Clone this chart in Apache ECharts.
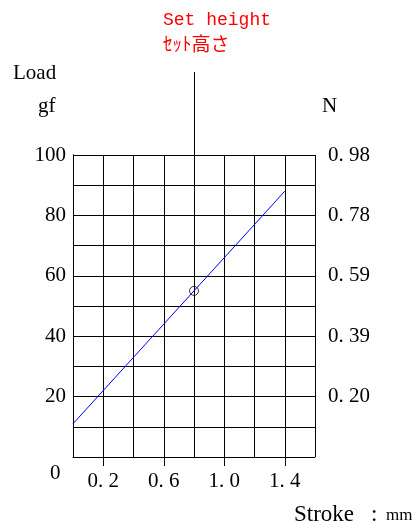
<!DOCTYPE html>
<html><head><meta charset="utf-8">
<script src="https://cdn.jsdelivr.net/npm/echarts@6/dist/echarts.min.js"></script>
<style>html,body{margin:0;padding:0;background:#fff}#c{width:416px;height:525px}</style>
</head><body><div id="c"></div>
<script>
var strokeValues = [0, 1.4];
var loadValues = [11, 88];
var setPoint = [0.8, 55];
var xTickValues = [0.2, 0.6, 1.0, 1.4];
var xTickLabels = ['0. 2', '0. 6', '1. 0', '1. 4'];
var yTickValues = [20, 40, 60, 80, 100];
var yLeftLabels = ['20', '40', '60', '80', '100'];
var yRightLabels = ['0. 20', '0. 39', '0. 59', '0. 78', '0. 98'];

var FONT = '"Liberation Serif", serif';
var chart = echarts.init(document.getElementById('c'), null, {renderer: 'canvas'});
function lab(arr, vals) { return function (v) { for (var i = 0; i < vals.length; i++) if (Math.abs(vals[i] - v) < 1e-6) return arr[i]; return ''; }; }
var opt = {
  animation: false,
  grid: {left: 73, right: 101, top: 155, bottom: 68, containLabel: false},
  xAxis: [{
    type: 'value', min: 0, max: 1.6, interval: 0.2, position: 'bottom',
    axisLine: {show: true, onZero: false, lineStyle: {color: '#000', width: 1}},
    splitLine: {show: true, lineStyle: {color: '#000', width: 1}},
    axisTick: {show: false},
    axisLabel: {customValues: xTickValues, formatter: lab(xTickLabels, xTickValues), color: '#000', fontFamily: FONT, fontSize: 21, margin: 14}
  }, {
    type: 'value', min: 0, max: 1.6, position: 'bottom', offset: 0,
    axisLine: {show: false, onZero: false},
    splitLine: {show: false},
    axisTick: {show: true, inside: false, length: 9, customValues: xTickValues, lineStyle: {color: '#000'}},
    axisLabel: {show: false}
  }],
  yAxis: [{
    type: 'value', min: 0, max: 100, interval: 10, position: 'left',
    axisLine: {show: true, lineStyle: {color: '#000', width: 1}},
    splitLine: {show: true, lineStyle: {color: '#000', width: 1}},
    axisTick: {show: false},
    axisLabel: {customValues: yTickValues, formatter: lab(yLeftLabels, yTickValues), color: '#000', fontFamily: FONT, fontSize: 21, margin: 7}
  }, {
    type: 'value', min: 0, max: 100, interval: 10, position: 'right',
    axisLine: {show: true, lineStyle: {color: '#000', width: 1}},
    splitLine: {show: false},
    axisTick: {show: false},
    axisLabel: {customValues: yTickValues, formatter: lab(yRightLabels, yTickValues), color: '#000', fontFamily: FONT, fontSize: 21, margin: 13}
  }],
  series: [{
    type: 'line', data: strokeValues.map(function (x, i) { return [x, loadValues[i]]; }),
    showSymbol: false, symbol: 'none', lineStyle: {color: '#0000ff', width: 1}, z: 3
  }, {
    type: 'scatter', data: [setPoint], symbol: 'circle', symbolSize: 9,
    itemStyle: {color: 'rgba(0,0,0,0)', borderColor: '#000', borderWidth: 1}, z: 4
  }]
};
chart.setOption(opt);
var pTop = chart.convertToPixel({gridIndex: 0}, [setPoint[0], 100]);
var pZero = chart.convertToPixel({gridIndex: 0}, [0, 0]);
chart.setOption({
  graphic: [
    {type: 'line', shape: {x1: Math.round(pTop[0]) + 0.5, y1: 72, x2: Math.round(pTop[0]) + 0.5, y2: pTop[1]}, style: {stroke: '#000', lineWidth: 1}},
    {type: 'text', left: 163, top: 11, style: {text: 'Set height', fill: '#ff0000', font: '18px "Liberation Mono", monospace'}},
    {type: 'text', left: 163, top: 34, style: {text: 'ｾｯﾄ高さ', fill: '#ff0000', font: '19px "Noto Sans CJK JP"'}},
    {type: 'text', left: 13, top: 63, style: {text: 'Load', fill: '#000', font: '21px ' + FONT}},
    {type: 'text', left: 38, top: 96, style: {text: 'gf', fill: '#000', font: '21px ' + FONT}},
    {type: 'text', left: 322, top: 96, style: {text: 'N', fill: '#000', font: '21px ' + FONT}},
    {type: 'text', left: 50, top: pZero[1] + 6, style: {text: '0', fill: '#000', font: '21px ' + FONT}},
    {type: 'text', left: 294, top: 503, style: {text: 'Stroke', fill: '#000', font: '23px ' + FONT}},
    {type: 'text', left: 371, top: 503, style: {text: ':', fill: '#000', font: '23px ' + FONT}},
    {type: 'text', left: 386, top: 507, style: {text: 'mm', fill: '#000', font: '17px ' + FONT}}
  ]
});
</script></body></html>
